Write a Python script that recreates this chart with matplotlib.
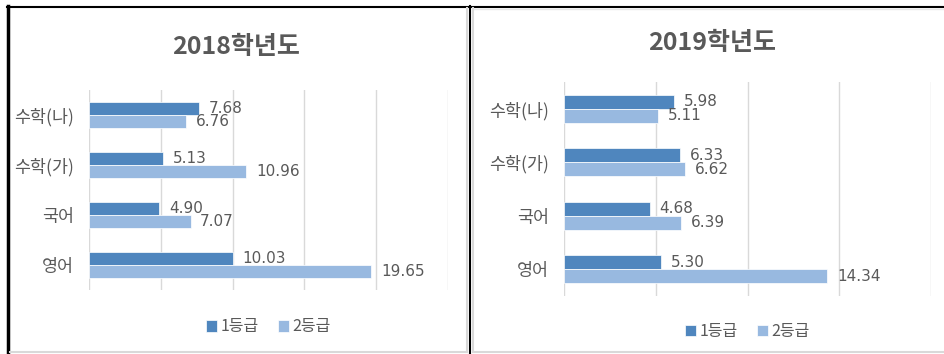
import matplotlib.pyplot as plt
from matplotlib.lines import Line2D
import numpy as np

plt.rcParams['font.family'] = ['Noto Sans CJK KR', 'DejaVu Sans']

# data
subjects = ['수학(나)', '수학(가)', '국어', '영어']
grade1_2018 = [7.68, 5.13, 4.90, 10.03]
grade2_2018 = [6.76, 10.96, 7.07, 19.65]
grade1_2019 = [5.98, 6.33, 4.68, 5.30]
grade2_2019 = [5.11, 6.62, 6.39, 14.34]
series_names = ['1등급', '2등급']

DARK = '#4F86BE'
LIGHT = '#98B9E0'
TXT = '#595959'
GRID = '#D9D9D9'

W, H = 944, 354
fig = plt.figure(figsize=(W / 100, H / 100), dpi=100)


def px_axes(x0, x1, y0, y1):
    # pixel box (top-left origin) -> figure axes
    return fig.add_axes([x0 / W, (H - y1) / H, (x1 - x0) / W, (y1 - y0) / H])


def draw_panel(ax, title, v1, v2, xmax, title_xy, legend_y):
    y = np.arange(len(subjects))
    h = 0.26
    b1 = ax.barh(y - h / 2, v1, height=h, color=DARK, edgecolor='white', linewidth=0.5)
    b2 = ax.barh(y + h / 2, v2, height=h, color=LIGHT, edgecolor='white', linewidth=0.5)
    ax.bar_label(b1, labels=[f'{v:.2f}' for v in v1], padding=7, fontsize=11,
                 color=TXT, family='DejaVu Sans')
    ax.bar_label(b2, labels=[f'{v:.2f}' for v in v2], padding=7, fontsize=11,
                 color=TXT, family='DejaVu Sans')
    ax.set_xlim(0, xmax)
    ax.set_ylim(len(subjects) - 0.5, -0.5)
    ax.set_xticks(np.arange(0, xmax + 1, 5))
    ax.set_xticklabels([])
    ax.set_yticks(y)
    ax.set_yticklabels(subjects, fontsize=12.5, color=TXT)
    ax.tick_params(length=0, pad=11)
    ax.grid(axis='x', color=GRID, linewidth=1)
    ax.set_axisbelow(True)
    for s in ax.spines.values():
        s.set_visible(False)
    fig.text(title_xy[0] / W, 1 - title_xy[1] / H, title, ha='center', va='center',
             fontsize=18, fontweight='bold', color=TXT)
    ax.legend([b1, b2], series_names, loc='center', ncol=2, frameon=False,
              bbox_to_anchor=(0.5, legend_y), fontsize=11.5, labelcolor=TXT,
              handlelength=0.7, handleheight=0.7, handletextpad=0.2,
              columnspacing=1.2)


ax1 = px_axes(89, 448, 90, 290)
draw_panel(ax1, '2018학년도', grade1_2018, grade2_2018, 25, (236, 47), -0.185)

ax2 = px_axes(564, 931, 82, 296)
draw_panel(ax2, '2019학년도', grade1_2019, grade2_2019, 20, (712, 43), -0.165)


# frame lines
def px_line(xs, ys, color, lw):
    fig.add_artist(Line2D([x / W for x in xs], [1 - y / H for y in ys],
                          color=color, linewidth=lw, transform=fig.transFigure))


px_line([7, 944], [6.5, 6.5], 'black', 1.5)
px_line([8, 8], [6, 354], 'black', 2.5)
px_line([470, 470], [6, 354], 'black', 1.5)
px_line([467, 467], [8, 352], '#D9D9D9', 1.5)
px_line([473, 473], [8, 352], '#D9D9D9', 1.5)
px_line([10, 466], [352, 352], '#D9D9D9', 1.5)
px_line([474, 944], [352, 352], '#D9D9D9', 1.5)
px_line([474, 944], [8.5, 8.5], '#E8E8E8', 1.0)

fig.savefig('out.png', dpi=100)
